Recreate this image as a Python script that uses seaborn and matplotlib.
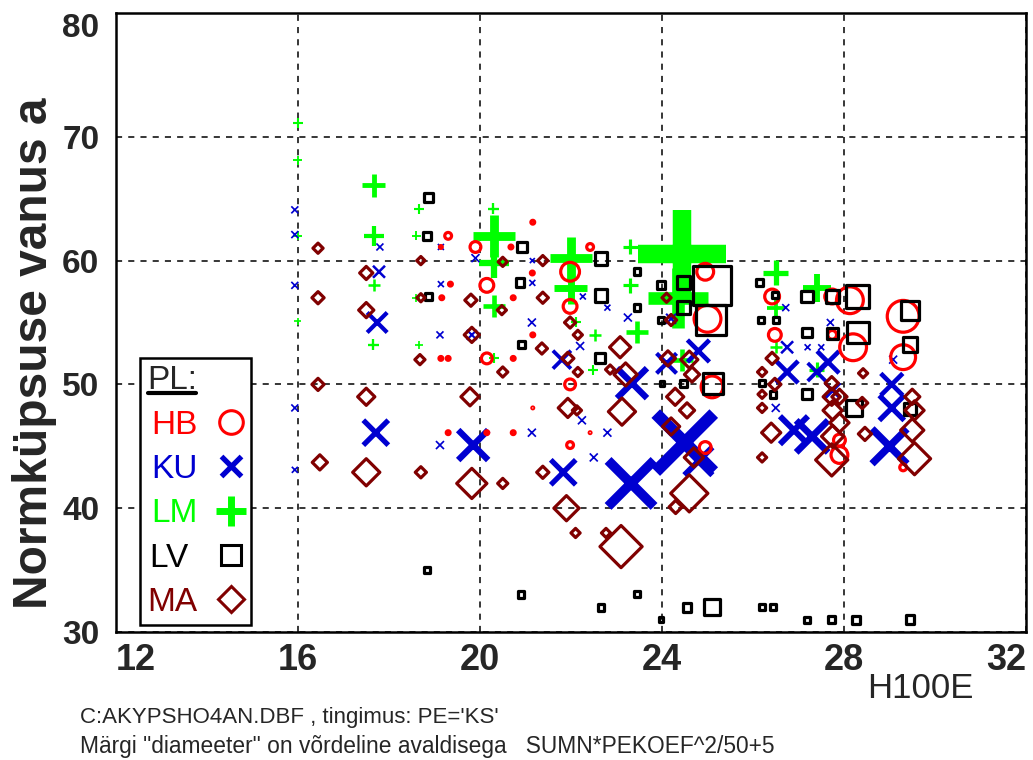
import numpy as np
import pandas as pd
import matplotlib
matplotlib.use("Agg")
import matplotlib.pyplot as plt
from matplotlib.lines import Line2D
from matplotlib.transforms import IdentityTransform
from matplotlib import font_manager as fm
import seaborn as sns

# ---------------- data (x = H100E, y = Normküpsuse vanus, d = marker "diameter" in px) ----------------
hb_x = [19.3, 19.14, 19.9, 21.16, 20.68, 22.42, 20.15, 19.35, 19.16, 21.98, 21.15, 20.73, 21.98, 21.16,
        19.14, 19.3, 20.15, 20.73, 21.98, 19.3, 20.15, 20.73, 21.98, 21.16, 22.42, 24.95, 25.0, 25.1,
        24.95, 26.42, 26.48, 27.74, 27.74, 28.13, 28.2, 27.9, 27.9, 29.3, 29.3, 29.3]
hb_y = [62.0, 61.1, 61.1, 63.1, 61.1, 61.1, 58.0, 58.1, 57.0, 59.1, 59.0, 57.0, 56.3, 54.0,
        52.1, 52.1, 52.1, 52.1, 50.0, 46.1, 46.1, 46.1, 45.1, 48.1, 46.1, 59.1, 55.3, 49.8,
        44.9, 57.1, 54.0, 57.1, 54.0, 56.8, 53.0, 44.3, 45.5, 55.5, 52.2, 43.3]
hb_d = [10, 6, 14, 7, 7, 10, 17, 7, 7, 22, 7, 7, 17, 7,
        7, 7, 14, 7, 14, 7, 7, 7, 10, 5, 5, 20, 30, 25,
        15, 18, 16, 18, 12, 30, 30, 20, 15, 35, 28, 10]

ku_x = [15.93, 15.93, 15.93, 15.93, 15.93, 17.8, 19.14, 19.9, 17.78, 19.14, 17.74, 19.12, 19.82, 17.71,
        19.12, 19.85, 21.15, 21.15, 22.26, 22.8, 21.14, 22.2, 23.25, 21.8, 23.34, 22.24, 21.14, 22.8,
        22.5, 21.83, 23.32, 24.5, 24.8, 24.1, 24.8, 26.72, 27.7, 26.75, 26.75, 27.2, 27.5, 27.65, 27.4,
        26.5, 26.9, 27.3, 29.08, 29.05, 29.05, 29.0, 24.2, 27.75]
ku_y = [64.1, 62.1, 58.0, 48.1, 43.1, 61.1, 61.1, 60.2, 59.1, 58.1, 55.0, 54.0, 54.0, 46.1,
        45.1, 45.1, 60.0, 58.2, 57.1, 56.2, 55.0, 53.1, 55.4, 52.0, 50.1, 47.1, 46.1, 46.1,
        44.1, 42.9, 42.0, 45.3, 43.8, 51.7, 52.7, 56.2, 55.0, 53.0, 51.0, 53.0, 53.0, 51.8, 51.0,
        48.1, 46.3, 45.8, 52.0, 50.0, 48.1, 45.0, 55.3, 49.5]
ku_d = [7, 7, 7, 7, 6, 7, 6, 8, 12, 6, 20, 7, 10, 25,
        8, 30, 5, 6, 6, 6, 8, 8, 8, 18, 30, 8, 8, 8,
        8, 25, 46, 58, 28, 20, 22, 7, 7, 12, 22, 6, 6, 22, 18,
        8, 28, 32, 8, 22, 25, 35, 10, 15]

lm_x = [16.0, 16.0, 17.67, 18.65, 16.0, 17.67, 18.6, 17.67, 18.6, 16.0, 17.65, 18.65, 20.29, 20.3,
        20.3, 20.3, 20.3, 22.0, 22.0, 23.3, 23.3, 22.1, 22.53, 23.45, 22.48, 24.45, 24.35, 26.5,
        26.5, 26.5, 27.4, 27.4, 24.45]
lm_y = [71.1, 68.1, 66.1, 64.2, 62.0, 62.0, 62.0, 58.0, 57.0, 55.1, 53.2, 53.2, 64.2, 62.0,
        59.8, 56.3, 52.1, 60.2, 57.8, 61.1, 58.0, 55.0, 54.0, 54.2, 51.2, 60.5, 57.0, 59.0,
        56.2, 53.0, 57.8, 51.2, 52.0]
lm_d = [10, 9, 23, 10, 9, 20, 9, 12, 8, 7, 11, 8, 11, 42,
        30, 22, 10, 42, 33, 15, 15, 10, 12, 22, 10, 88, 60, 25,
        18, 12, 28, 15, 22]

lv_x = [18.86, 18.83, 18.86, 18.83, 20.92, 20.88, 20.92, 22.66, 22.66, 22.64, 23.45, 23.45, 23.98, 23.98,
        24.0, 24.48, 24.48, 24.48, 25.1, 25.07, 25.12, 26.15, 26.48, 26.17, 26.5, 26.2, 26.44, 27.19,
        27.74, 28.29, 27.19, 27.74, 28.3, 27.19, 28.22, 29.45, 29.45, 29.45, 20.9, 22.66, 23.45, 23.98,
        24.55, 25.1, 26.2, 26.44, 27.19, 27.73, 28.27, 29.45]
lv_y = [65.1, 62.0, 57.1, 35.0, 61.1, 58.2, 53.2, 60.2, 57.2, 52.1, 59.1, 56.2, 58.0, 55.2,
        50.1, 58.2, 56.2, 50.1, 58.0, 55.2, 50.1, 58.2, 57.2, 55.2, 55.2, 50.1, 49.2, 57.1,
        57.1, 57.1, 54.2, 54.1, 54.2, 49.2, 48.1, 56.0, 53.2, 48.0, 33.0, 32.0, 33.1, 31.0,
        32.0, 32.0, 32.0, 32.0, 31.0, 31.0, 31.0, 31.0]
lv_d = [12, 11, 10, 9, 13, 12, 10, 16, 16, 13, 10, 10, 11, 10,
        8, 16, 16, 10, 42, 33, 24, 10, 9, 9, 9, 9, 10, 15,
        16, 26, 13, 14, 25, 13, 20, 22, 18, 15, 10, 10, 9, 8,
        12, 19, 9, 9, 9, 10, 11, 12]

ma_x = [16.44, 18.7, 17.5, 16.44, 18.7, 19.8, 17.5, 19.82, 18.68, 16.44, 17.5, 19.78, 16.48, 17.5,
        18.7, 19.82, 20.5, 20.5, 21.38, 21.38, 20.48, 21.98, 22.15, 23.08, 21.36, 20.5, 21.93, 22.15,
        23.2, 22.86, 21.93, 23.12, 22.13, 21.38, 21.9, 22.1, 22.77, 23.1, 24.1, 24.13, 24.6, 24.66,
        24.29, 24.55, 24.2, 24.7, 24.6, 24.3, 26.42, 26.2, 26.48, 26.2, 26.2, 26.4, 26.2, 27.73,
        27.73, 27.75, 27.9, 27.9, 27.75, 27.73, 28.42, 28.4, 28.46, 29.5, 29.55, 29.5, 29.55, 24.2]
ma_y = [61.0, 60.0, 59.0, 57.0, 57.0, 56.8, 56.0, 54.0, 52.0, 50.0, 49.0, 49.0, 43.7, 42.9,
        42.9, 42.0, 42.0, 59.9, 60.0, 57.0, 56.0, 55.0, 54.0, 53.0, 52.9, 51.0, 52.1, 51.0,
        50.8, 51.2, 48.1, 47.8, 47.9, 42.9, 40.0, 38.0, 38.0, 36.9, 57.0, 52.1, 52.0, 50.8,
        49.0, 47.9, 46.6, 44.1, 41.2, 40.1, 52.1, 51.0, 50.0, 49.2, 48.1, 46.1, 44.1, 50.1,
        49.0, 47.9, 49.0, 46.9, 45.8, 43.9, 50.9, 48.5, 46.0, 49.0, 47.9, 46.3, 44.0, 55.2]
ma_d = [14, 12, 17, 16, 12, 16, 19, 19, 14, 16, 21, 22, 19, 31,
        15, 34, 14, 13, 14, 15, 13, 15, 13, 25, 15, 14, 16, 13,
        27, 13, 23, 31, 13, 16, 29, 13, 13, 46, 13, 19, 21, 19,
        21, 19, 21, 23, 41, 17, 16, 13, 16, 12, 13, 23, 13, 17,
        21, 23, 19, 23, 26, 36, 13, 15, 17, 19, 23, 27, 36, 15]

groups = ["HB", "KU", "LM", "LV", "MA"]
x_ticks = [12, 16, 20, 24, 28, 32]
y_ticks = [30, 40, 50, 60, 70, 80]

# ---------------- style ----------------
sns.set_style("white")
names = {f.name for f in fm.fontManager.ttflist}
SANS = "Liberation Sans" if "Liberation Sans" in names else "DejaVu Sans"
plt.rcParams["font.family"] = [SANS, "DejaVu Sans"]

COLORS = {"HB": "#FF0000", "KU": "#0000D0", "LM": "#00FF00", "LV": "#000000", "MA": "#800000"}
MARKERS = {"HB": "o", "KU": "x", "LM": "+", "LV": "s", "MA": "D"}
PT = 0.72          # points per pixel at dpi=100
LW = 2.3           # outline width of hollow markers (pt)

fig = plt.figure(figsize=(10.33, 7.60), dpi=100)
ax = fig.add_axes([116 / 1033, 1 - 632 / 760, 910 / 1033, 619 / 760])

data = {
    "HB": (hb_x, hb_y, hb_d),
    "KU": (ku_x, ku_y, ku_d),
    "LM": (lm_x, lm_y, lm_d),
    "LV": (lv_x, lv_y, lv_d),
    "MA": (ma_x, ma_y, ma_d),
}

for g in ["LM", "KU", "HB", "LV", "MA"]:
    xs, ys, ds = data[g]
    df = pd.DataFrame({"H100E": xs, "vanus": ys})
    d = np.asarray(ds, dtype=float)
    sns.scatterplot(data=df, x="H100E", y="vanus", marker=MARKERS[g], color=COLORS[g],
                    ax=ax, legend=False, zorder=3)
    coll = ax.collections[-1]
    if g in ("KU", "LM"):
        lw = np.maximum(0.21 * d, 1.7) * PT
        m = d * PT
    elif g == "MA":
        lw = np.full_like(d, LW)
        m = np.maximum((d * PT - LW * 1.2) / 1.414, 0.8)
    else:
        lw = np.full_like(d, LW)
        m = np.maximum(d * PT - LW, 1.0)
    coll.set_sizes(m ** 2)
    coll.set_linewidths(lw)
    coll.set_edgecolor(COLORS[g])
    coll.set_facecolor("none")

# ---------------- axes ----------------
ax.set_xlim(12, 32)
ax.set_ylim(30, 80)
ax.set_xticks(x_ticks)
ax.set_yticks(y_ticks)
ax.set_xticklabels([str(t) for t in x_ticks], fontsize=26, fontweight="bold")
ax.set_yticklabels([str(t) for t in y_ticks], fontsize=24, fontweight="bold")
ax.tick_params(axis="both", length=0)
ax.tick_params(axis="x", pad=8)
ax.tick_params(axis="y", pad=12)
xl = ax.get_xticklabels()
xl[0].set_ha("left")
xl[-1].set_ha("right")
yl = ax.get_yticklabels()
yl[-1].set_va("top")
ax.set_xlabel("")
ax.set_ylabel("")
ax.grid(True, color="black", linestyle=(0, (4, 4)), linewidth=1.1)
ax.set_axisbelow(True)
for sp in ax.spines.values():
    sp.set_color("black")
    sp.set_linewidth(1.8)

fig.text(35 / 1033, 1 - 353 / 760, "Normküpsuse vanus a", rotation=90, ha="center", va="center",
         fontsize=34.5, fontweight="bold")
fig.text(920 / 1033, 1 - 688 / 760, "H100E", ha="center", va="center", fontsize=25)
fig.text(80 / 1033, 1 - 718 / 760, "C:AKYPSHO4AN.DBF , tingimus: PE='KS'", ha="left", va="center",
         fontsize=16)
fig.text(80 / 1033, 1 - 746 / 760, 'Märgi "diameeter" on võrdeline avaldisega   SUMN*PEKOEF^2/50+5',
         ha="left", va="center", fontsize=16.4)

# ---------------- legend ----------------
handles = [
    Line2D([], [], linestyle="none", marker="o", markersize=17, markeredgewidth=2.2,
           markerfacecolor="none", markeredgecolor=COLORS["HB"]),
    Line2D([], [], linestyle="none", marker="x", markersize=15, markeredgewidth=3.8,
           color=COLORS["KU"]),
    Line2D([], [], linestyle="none", marker="+", markersize=22, markeredgewidth=5,
           color=COLORS["LM"]),
    Line2D([], [], linestyle="none", marker="s", markersize=14, markeredgewidth=2.2,
           markerfacecolor="none", markeredgecolor=COLORS["LV"]),
    Line2D([], [], linestyle="none", marker="D", markersize=13, markeredgewidth=2.2,
           markerfacecolor="none", markeredgecolor=COLORS["MA"]),
]
# labels padded so that the (right-aligned) text boxes share the same width
leg_labels = ["HB", "KU", "LM", "LV ", "MA"]
leg = ax.legend(handles, leg_labels, title="PL:", loc="upper left",
                bbox_to_anchor=(140 / 1033, 1 - 358 / 760), bbox_transform=fig.transFigure,
                markerfirst=False, frameon=True, fancybox=False, fontsize=24, title_fontsize=24,
                handlelength=0.8, handletextpad=0.6, labelspacing=0.4, borderpad=0.22,
                borderaxespad=0, alignment="left")
leg.get_frame().set_edgecolor("black")
leg.get_frame().set_linewidth(1.8)
leg.get_frame().set_facecolor("white")
leg.get_frame().set_alpha(1)
leg.set_zorder(10)
for t, g in zip(leg.get_texts(), groups):
    t.set_color(COLORS[g])

fig.canvas.draw()
bb = leg.get_title().get_window_extent()
fig.add_artist(Line2D([bb.x0 + 1, bb.x1 - 1], [bb.y0 + 3, bb.y0 + 3], color="black", linewidth=3,
                      transform=IdentityTransform(), zorder=11))

fig.savefig("out.png", dpi=100)
